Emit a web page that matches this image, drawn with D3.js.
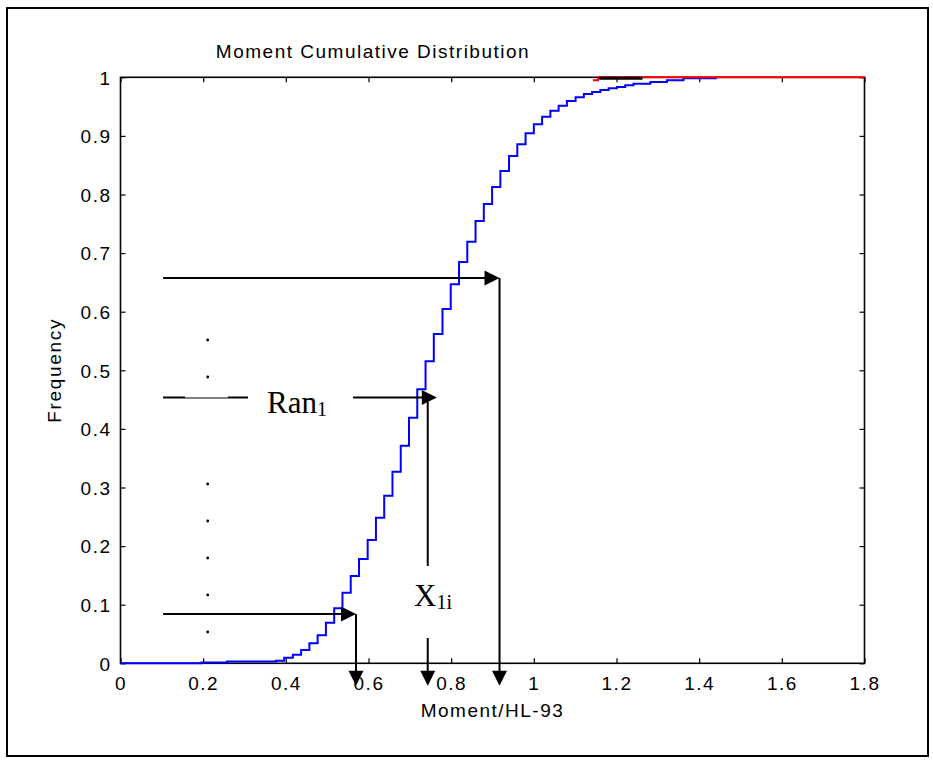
<!DOCTYPE html>
<html><head><meta charset="utf-8">
<script src="https://cdn.jsdelivr.net/npm/d3@7"></script>
<style>body{margin:0;background:#fff} svg{display:block}</style>
</head><body>
<svg id="c" width="933" height="760"></svg>
<script>
// ---------- data ----------
const titleText = "Moment Cumulative Distribution";
const xLabelText = "Moment/HL-93";
const yLabelText = "Frequency";
const xTicks = [0, 0.2, 0.4, 0.6, 0.8, 1.0, 1.2, 1.4, 1.6, 1.8];
const xTickLabels = ["0", "0.2", "0.4", "0.6", "0.8", "1", "1.2", "1.4", "1.6", "1.8"];
const yTicks = [0, 0.1, 0.2, 0.3, 0.4, 0.5, 0.6, 0.7, 0.8, 0.9, 1.0];
const yTickLabels = ["0", "0.1", "0.2", "0.3", "0.4", "0.5", "0.6", "0.7", "0.8", "0.9", "1"];

// empirical CDF (blue staircase): x where each step starts, value after the step
const cdfX = [0, 0.196, 0.258,
  0.376, 0.396, 0.417, 0.437, 0.457, 0.477, 0.497, 0.517, 0.537, 0.557,
  0.577, 0.598, 0.618, 0.638, 0.658, 0.678, 0.698, 0.718, 0.738, 0.758,
  0.779, 0.799, 0.819, 0.839, 0.859, 0.879, 0.899, 0.919, 0.940, 0.960,
  0.980, 1.000, 1.020, 1.040, 1.060, 1.080, 1.101, 1.121, 1.141, 1.161,
  1.181, 1.201, 1.221, 1.241, 1.282, 1.322, 1.362];
const cdfY = [0, 0.0015, 0.003,
  0.0044, 0.0096, 0.0147, 0.0227, 0.0341, 0.0478, 0.0693, 0.0939, 0.1205, 0.149,
  0.178, 0.2104, 0.2485, 0.286, 0.327, 0.3713, 0.419, 0.4676, 0.5154, 0.562,
  0.6046, 0.6468, 0.6848, 0.7195, 0.7548, 0.7838, 0.8128, 0.8401, 0.8657, 0.8857,
  0.9044, 0.9198, 0.9328, 0.943, 0.9515, 0.9596, 0.9659, 0.9715, 0.975, 0.9784,
  0.9812, 0.9835, 0.9863, 0.9891, 0.992, 0.9949, 0.9983];
const cdfEndX = 1.443;

// red reference line and small dark overlay near the top
const refX = [1.143, 1.155, 1.8];
const refY = [0.9949, 1.0, 1.0];
const overlayX = [1.158, 1.263];
const overlayY = [0.9985, 0.9985];

// sampling annotation: random levels -> sampled moments
const ranLevels = [0.6575, 0.4536, 0.0841];
const sampleX = [0.917, 0.7433, 0.5698];
const tipOffsetX = [0, 0.022, 0];
const arrowStartX = 0.103;
const arrowEndY = -0.0385;
const dotX = 0.211;
const dotY = [0.5517, 0.4886, 0.3060, 0.2428, 0.1797, 0.1166, 0.0534];

// ---------- drawing ----------
const svg = d3.select("#c");
const W = 933, H = 760;
svg.append("rect").attr("width", W).attr("height", H).attr("fill", "#fff");
svg.append("rect").attr("x", 7).attr("y", 8).attr("width", 921).attr("height", 748)
  .attr("fill", "none").attr("stroke", "#000").attr("stroke-width", 2);

const L = 120.5, R = 864.5, T = 77.3, B = 663.3;
const x = d3.scaleLinear().domain([0, 1.8]).range([L, R]);
const y = d3.scaleLinear().domain([0, 1]).range([B, T]);

const sans = "'Liberation Sans', Arial, Helvetica, sans-serif";
const serif = "'Liberation Serif', 'Times New Roman', serif";

// axes with inward ticks on all four sides
function styleAxis(g) {
  g.select(".domain").remove();
  g.selectAll(".tick line").attr("stroke", "#000").attr("stroke-width", 1.2);
  g.selectAll("text").attr("font-family", sans).attr("font-size", 19)
    .attr("letter-spacing", 1.5).attr("fill", "#000");
}
const gb = svg.append("g").attr("transform", `translate(0,${B})`)
  .call(d3.axisBottom(x).tickValues(xTicks).tickSize(-5).tickFormat((d, i) => xTickLabels[i]))
  .call(styleAxis);
gb.selectAll("text").attr("y", 27).attr("dy", 0);
svg.append("g").attr("transform", `translate(0,${T})`)
  .call(d3.axisTop(x).tickValues(xTicks).tickSize(-5).tickFormat(""))
  .call(styleAxis);
const gl = svg.append("g").attr("transform", `translate(${L},0)`)
  .call(d3.axisLeft(y).tickValues(yTicks).tickSize(-5).tickFormat((d, i) => yTickLabels[i]))
  .call(styleAxis);
gl.selectAll("text").attr("x", -9).attr("dy", "0.36em");
svg.append("g").attr("transform", `translate(${R},0)`)
  .call(d3.axisRight(y).tickValues(yTicks).tickSize(-5).tickFormat(""))
  .call(styleAxis);

svg.append("rect").attr("x", L).attr("y", T).attr("width", R - L).attr("height", B - T)
  .attr("fill", "none").attr("stroke", "#000").attr("stroke-width", 1.6);

// titles
svg.append("text").attr("x", 373).attr("y", 58).attr("text-anchor", "middle")
  .attr("font-family", sans).attr("font-size", 19).attr("letter-spacing", 1.5).text(titleText);
svg.append("text").attr("x", (L + R) / 2).attr("y", 717).attr("text-anchor", "middle")
  .attr("font-family", sans).attr("font-size", 19).attr("letter-spacing", 1.5).text(xLabelText);
svg.append("text").attr("transform", `translate(61,${(T + B) / 2}) rotate(-90)`)
  .attr("text-anchor", "middle")
  .attr("font-family", sans).attr("font-size", 19).attr("letter-spacing", 1.7).text(yLabelText);

// series
const line = d3.line().x(d => x(d[0])).y(d => y(d[1])).curve(d3.curveStepAfter);
const cdfPts = cdfX.map((v, i) => [v, cdfY[i]]);
cdfPts.push([cdfEndX, cdfY[cdfY.length - 1]]);
svg.append("path").attr("d", line(cdfPts)).attr("fill", "none")
  .attr("stroke", "#0000ff").attr("stroke-width", 2);
svg.append("path").attr("d", line(refX.map((v, i) => [v, refY[i]]))).attr("fill", "none")
  .attr("stroke", "#ff0000").attr("stroke-width", 2);
svg.append("path").attr("d", line(overlayX.map((v, i) => [v, overlayY[i]]))).attr("fill", "none")
  .attr("stroke", "#000").attr("stroke-width", 3);

// annotation arrows
const ann = svg.append("g").attr("stroke", "#000").attr("stroke-width", 2);
const head = 15, half = 7.5;
function rightHead(tx, ty) {
  svg.append("path").attr("d", `M${tx},${ty} L${tx - head},${ty - half} L${tx - head},${ty + half} Z`).attr("fill", "#000");
}
function downHead(tx, ty) {
  svg.append("path").attr("d", `M${tx},${ty} L${tx - half},${ty - head} L${tx + half},${ty - head} Z`).attr("fill", "#000");
}
const x0 = x(arrowStartX), yEnd = y(arrowEndY);
ranLevels.forEach((lv, i) => {
  const yy = y(lv), xx = x(sampleX[i]);
  const tipX = x(sampleX[i] + tipOffsetX[i]);
  if (i === 1) {
    // broken by the dots column and the "Ran1" label box
    ann.append("line").attr("x1", x0).attr("x2", 185).attr("y1", yy).attr("y2", yy);
    ann.append("line").attr("x1", 185).attr("x2", 228).attr("y1", yy + 0.5).attr("y2", yy + 0.5).attr("stroke-width", 1);
    ann.append("line").attr("x1", 228).attr("x2", 248).attr("y1", yy).attr("y2", yy);
    ann.append("line").attr("x1", 353).attr("x2", tipX - head + 1).attr("y1", yy).attr("y2", yy);
    // vertical broken by the "X1i" label box
    ann.append("line").attr("x1", xx).attr("x2", xx).attr("y1", yy).attr("y2", 566);
    ann.append("line").attr("x1", xx).attr("x2", xx).attr("y1", 638).attr("y2", yEnd - head + 1);
  } else {
    ann.append("line").attr("x1", x0).attr("x2", tipX - head + 1).attr("y1", yy).attr("y2", yy);
    ann.append("line").attr("x1", xx).attr("x2", xx).attr("y1", yy).attr("y2", yEnd - head + 1);
  }
  rightHead(tipX, yy);
  downHead(xx, yEnd);
});

// dots
svg.selectAll("circle.dot").data(dotY).join("circle").attr("class", "dot")
  .attr("cx", x(dotX)).attr("cy", d => y(d)).attr("r", 1.4).attr("fill", "#000");

// labels
const ran = svg.append("text").attr("x", 267).attr("y", 413.3)
  .attr("font-family", serif).attr("font-size", 31).attr("fill", "#000");
ran.append("tspan").text("Ran");
ran.append("tspan").attr("font-size", 20).attr("dy", 2.5).text("1");
const xl = svg.append("text").attr("x", 414).attr("y", 606)
  .attr("font-family", serif).attr("font-size", 31).attr("fill", "#000");
xl.append("tspan").text("X");
xl.append("tspan").attr("font-size", 20).attr("dy", 3).text("1i");
</script>
</body></html>
